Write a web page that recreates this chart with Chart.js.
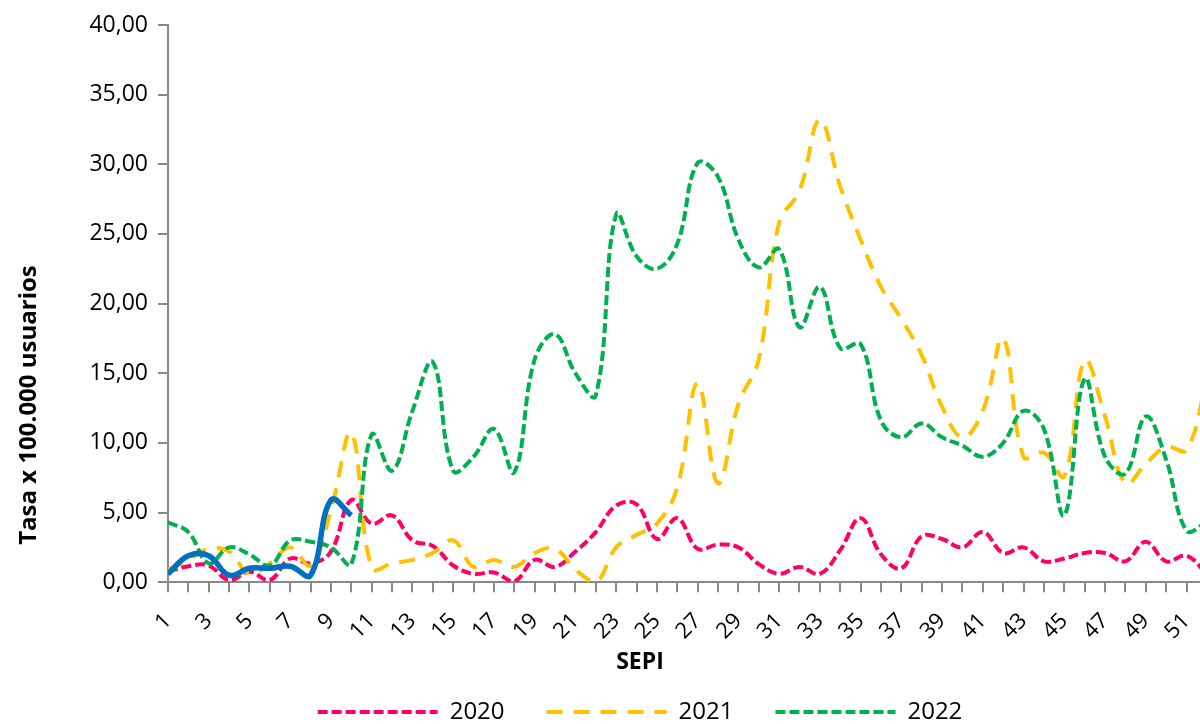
<!DOCTYPE html>
<html>
<head>
<meta charset="utf-8">
<script src="https://cdn.jsdelivr.net/npm/chart.js@4.4.1/dist/chart.umd.min.js"></script>
<style>
html, body { margin: 0; padding: 0; overflow: hidden; background: #fff; }
#wrap { width: 1280px; height: 724px; }
</style>
</head>
<body>
<div id="wrap"><canvas id="myChart" width="1280" height="724"></canvas></div>
<script>
// SEPI (epidemiological weeks)
const weeks = [1, 2, 3, 4, 5, 6, 7, 8, 9, 10, 11, 12, 13, 14, 15, 16, 17, 18, 19, 20,
    21, 22, 23, 24, 25, 26, 27, 28, 29, 30, 31, 32, 33, 34, 35, 36, 37, 38, 39, 40,
    41, 42, 43, 44, 45, 46, 47, 48, 49, 50, 51, 52];

// tasa x 100.000 usuarios
const tasa2020 = [0.75, 1.15, 1.2, 0.15, 0.75, 0.15, 1.7, 1.35, 2.2, 5.9,
    4.2, 4.8, 3.0, 2.6, 1.2, 0.6, 0.7, 0.05, 1.6, 1.1,
    2.2, 3.6, 5.5, 5.6, 3.1, 4.6, 2.4, 2.7, 2.5, 1.3,
    0.6, 1.1, 0.6, 2.3, 4.6, 2.0, 1.0, 3.3, 3.1, 2.5,
    3.6, 2.1, 2.5, 1.5, 1.7, 2.1, 2.1, 1.5, 2.9, 1.5,
    1.9, 0.6];
const tasa2021 = [0.9, 1.6, 2.4, 2.2, 0.6, 1.35, 2.5, 1.2, 5.2, 10.7,
    1.0, 1.35, 1.6, 2.1, 3.0, 1.1, 1.6, 1.1, 2.1, 2.4,
    0.9, 0.0, 2.5, 3.4, 4.2, 6.8, 14.3, 7.1, 12.8, 16.0,
    25.8, 28.1, 33.2, 28.4, 24.6, 21.2, 18.9, 16.3, 12.6, 10.4,
    12.3, 17.5, 9.0, 9.3, 7.6, 15.9, 11.9, 7.1, 8.5, 9.7,
    9.5, 14.5];
const tasa2022 = [4.3, 3.6, 1.35, 2.5, 2.0, 1.2, 3.0, 2.9, 2.5, 1.3,
    10.6, 8.0, 12.3, 15.8, 8.0, 9.0, 11.0, 7.9, 16.0, 17.8,
    15.0, 13.4, 26.4, 23.4, 22.5, 24.3, 30.1, 29.1, 24.6, 22.6,
    23.9, 18.3, 21.2, 16.8, 17.1, 11.6, 10.4, 11.4, 10.4, 9.8,
    9.0, 10.0, 12.3, 11.0, 4.8, 14.6, 9.0, 7.8, 11.9, 8.8,
    3.7, 4.3];
const tasa2023 = [0.6, 1.9, 1.9, 0.5, 1.0, 1.0, 1.15, 0.5, 5.9, 4.8];

const tickLabels = weeks.map(w => (w % 2 === 1 ? String(w) : ''));
const toPoints = values => values.map((v, i) => ({ x: weeks[i], y: v }));

const axisColor = '#898989';
const font = 'Open Sans';

new Chart("myChart", {
    type: "line",
    data: {
        datasets: [
            { label: "2020", data: toPoints(tasa2020), borderColor: "#FF0066", backgroundColor: "#FF0066",
              borderWidth: 4, borderDash: [10, 4], order: 3 },
            { label: "2021", data: toPoints(tasa2021), borderColor: "#FFC000", backgroundColor: "#FFC000",
              borderWidth: 4, borderDash: [16, 11], order: 2 },
            { label: "2022", data: toPoints(tasa2022), borderColor: "#00B050", backgroundColor: "#00B050",
              borderWidth: 4, borderDash: [10, 4], order: 1 },
            { label: "2023", data: toPoints(tasa2023), borderColor: "#0070C0", backgroundColor: "#0070C0",
              borderWidth: 5.5, order: 0 }
        ]
    },
    options: {
        responsive: false,
        animation: false,
        devicePixelRatio: 1,
        layout: { padding: { left: 12, right: 12, top: 25, bottom: -10 } },
        elements: {
            point: { radius: 0 },
            line: { tension: 0.4, fill: false, borderCapStyle: 'butt' }
        },
        plugins: {
            legend: {
                position: "bottom",
                labels: {
                    generateLabels: chart => Chart.defaults.plugins.legend.labels.generateLabels(chart)
                        .map(item => {
                            const ds = chart.data.datasets[item.datasetIndex];
                            return { ...item, lineDash: ds.borderDash || [], lineWidth: ds.borderWidth,
                                     strokeStyle: ds.borderColor, fillStyle: ds.borderColor };
                        }),
                    filter: item => item.datasetIndex !== 3,
                    sort: (a, b) => a.datasetIndex - b.datasetIndex,
                    usePointStyle: true,
                    pointStyle: "line",
                    pointStyleWidth: 120,
                    padding: 42,
                    color: "#000",
                    font: { family: font, size: 24 }
                }
            },
            title: {
                display: true,
                text: "SEPI",
                position: "bottom",
                weight: 500,
                color: "#000",
                font: { family: font, size: 23, weight: "bold" },
                padding: { top: 0, bottom: -17.8 }
            },
            tooltip: { enabled: false }
        },
        scales: {
            x: {
                type: "linear",
                min: 1,
                max: 55,
                afterFit: scale => {
                    scale.height = 66;
                    scale.paddingLeft = 0;
                    scale.paddingRight = 0;
                },
                grid: { drawOnChartArea: false, tickLength: 10, color: axisColor, lineWidth: 2 },
                border: { color: axisColor, width: 2 },
                ticks: {
                    stepSize: 1,
                    autoSkip: false,
                    maxRotation: 45,
                    minRotation: 45,
                    padding: 16,
                    color: "#000",
                    font: { family: font, size: 22 },
                    callback: value => tickLabels[value - 1] || ''
                }
            },
            y: {
                min: 0,
                max: 40,
                afterFit: scale => { scale.width = 156; },
                grid: { drawOnChartArea: false, tickLength: 10, color: axisColor, lineWidth: 2 },
                border: { color: axisColor, width: 2 },
                ticks: {
                    stepSize: 5,
                    padding: 10,
                    color: "#000",
                    font: { family: font, size: 23 },
                    callback: value => value.toFixed(2).replace('.', ',')
                },
                title: {
                    display: true,
                    text: "      Tasa x 100.000 usuarios",
                    align: "start",
                    color: "#000",
                    font: { family: font, size: 24, weight: "bold" },
                    padding: { top: 3, bottom: 0 }
                }
            }
        }
    }
});
</script>
</body>
</html>
